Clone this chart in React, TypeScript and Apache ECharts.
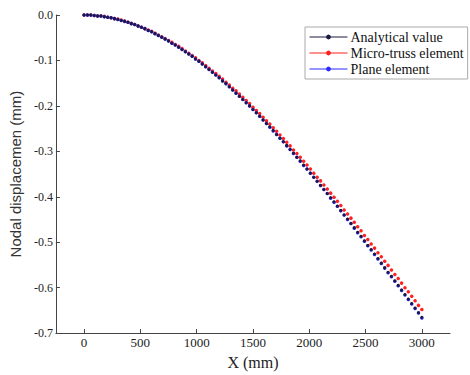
import React, { useEffect, useRef } from "react";
import * as echarts from "echarts";

const xValues = [
  0, 30, 60, 90, 120, 150, 180, 210, 240, 270, 300, 330, 360, 390, 420, 450, 480, 510, 540, 570,
  600, 630, 660, 690, 720, 750, 780, 810, 840, 870, 900, 930, 960, 990, 1020, 1050, 1080, 1110, 1140, 1170,
  1200, 1230, 1260, 1290, 1320, 1350, 1380, 1410, 1440, 1470, 1500, 1530, 1560, 1590, 1620, 1650, 1680, 1710, 1740, 1770,
  1800, 1830, 1860, 1890, 1920, 1950, 1980, 2010, 2040, 2070, 2100, 2130, 2160, 2190, 2220, 2250, 2280, 2310, 2340, 2370,
  2400, 2430, 2460, 2490, 2520, 2550, 2580, 2610, 2640, 2670, 2700, 2730, 2760, 2790, 2820, 2850, 2880, 2910, 2940, 2970,
  3000,
];

const analytical = [
  0, -0.000, -0.000, -0.001, -0.002, -0.002, -0.004, -0.005, -0.006, -0.008,
  -0.010, -0.012, -0.014, -0.016, -0.019, -0.021, -0.024, -0.027, -0.030, -0.034,
  -0.037, -0.041, -0.045, -0.049, -0.053, -0.057, -0.062, -0.066, -0.071, -0.076,
  -0.081, -0.086, -0.091, -0.097, -0.102, -0.108, -0.114, -0.120, -0.126, -0.132,
  -0.138, -0.145, -0.151, -0.158, -0.165, -0.172, -0.179, -0.186, -0.193, -0.200,
  -0.208, -0.215, -0.223, -0.231, -0.239, -0.246, -0.254, -0.263, -0.271, -0.279,
  -0.287, -0.296, -0.304, -0.313, -0.321, -0.330, -0.339, -0.348, -0.357, -0.366,
  -0.375, -0.384, -0.393, -0.402, -0.411, -0.421, -0.430, -0.440, -0.449, -0.459,
  -0.468, -0.478, -0.487, -0.497, -0.507, -0.516, -0.526, -0.536, -0.546, -0.556,
  -0.566, -0.575, -0.585, -0.595, -0.605, -0.615, -0.625, -0.635, -0.645, -0.655,
  -0.665,
];

const microTruss = [
  0, -0.000, -0.000, -0.001, -0.002, -0.002, -0.003, -0.005, -0.006, -0.008,
  -0.009, -0.011, -0.013, -0.016, -0.018, -0.021, -0.024, -0.027, -0.030, -0.033,
  -0.036, -0.040, -0.044, -0.048, -0.052, -0.056, -0.060, -0.065, -0.069, -0.074,
  -0.079, -0.084, -0.089, -0.094, -0.100, -0.105, -0.111, -0.117, -0.123, -0.129,
  -0.135, -0.141, -0.148, -0.154, -0.161, -0.167, -0.174, -0.181, -0.188, -0.195,
  -0.203, -0.210, -0.217, -0.225, -0.233, -0.240, -0.248, -0.256, -0.264, -0.272,
  -0.280, -0.288, -0.297, -0.305, -0.313, -0.322, -0.330, -0.339, -0.348, -0.357,
  -0.365, -0.374, -0.383, -0.392, -0.401, -0.410, -0.419, -0.429, -0.438, -0.447,
  -0.456, -0.466, -0.475, -0.485, -0.494, -0.504, -0.513, -0.523, -0.532, -0.542,
  -0.551, -0.561, -0.571, -0.580, -0.590, -0.600, -0.609, -0.619, -0.629, -0.639,
  -0.648,
];

const planeElement = [
  0, -0.000, -0.000, -0.001, -0.002, -0.002, -0.004, -0.005, -0.006, -0.008,
  -0.010, -0.012, -0.014, -0.016, -0.019, -0.021, -0.024, -0.027, -0.030, -0.034,
  -0.037, -0.041, -0.045, -0.049, -0.053, -0.057, -0.062, -0.066, -0.071, -0.076,
  -0.081, -0.086, -0.091, -0.097, -0.102, -0.108, -0.114, -0.120, -0.126, -0.132,
  -0.138, -0.145, -0.151, -0.158, -0.165, -0.172, -0.179, -0.186, -0.193, -0.200,
  -0.208, -0.215, -0.223, -0.231, -0.239, -0.247, -0.255, -0.263, -0.271, -0.279,
  -0.288, -0.296, -0.305, -0.313, -0.322, -0.331, -0.339, -0.348, -0.357, -0.366,
  -0.375, -0.384, -0.393, -0.403, -0.412, -0.421, -0.431, -0.440, -0.450, -0.459,
  -0.469, -0.479, -0.488, -0.498, -0.508, -0.517, -0.527, -0.537, -0.547, -0.557,
  -0.567, -0.576, -0.586, -0.596, -0.606, -0.616, -0.626, -0.636, -0.646, -0.656,
  -0.667,
];

const xTicks = [0, 500, 1000, 1500, 2000, 2500, 3000];
const seriesNames = ["Analytical value", "Micro-truss element", "Plane element"];
const seriesColors = ["#1a1a40", "#ff2020", "#2a2aff"];
const seriesZ = [4, 2, 3];
const seriesSizes = [3, 3.5, 3.5];

export default function App() {
  const ref = useRef<HTMLDivElement>(null);
  useEffect(() => {
    if (!ref.current) return;
    const chart = echarts.init(ref.current, null, { renderer: "svg" });
    const seriesData = [analytical, microTruss, planeElement];
    const serif = "Liberation Serif";
    chart.setOption({
      animation: false,
      backgroundColor: "#ffffff",
      grid: { left: 55, right: 20, top: 15, bottom: 41, containLabel: false },
      legend: {
        orient: "vertical",
        left: 305,
        top: 27,
        itemGap: 2,
        itemWidth: 38,
        itemHeight: 6,
        padding: [3, 4, 3, 4],
        borderColor: "#aaaaaa",
        borderWidth: 1,
        borderRadius: 0,
        textStyle: { fontFamily: serif, fontSize: 14, color: "#111", padding: [0, 0, 0, -2] },
        lineStyle: { width: 1, opacity: 1 },
        data: seriesNames,
      },
      xAxis: {
        type: "value",
        min: -250,
        max: 3250,
        name: "X (mm)",
        nameLocation: "middle",
        nameGap: 20,
        nameTextStyle: { fontFamily: serif, fontSize: 16, color: "#222" },
        axisLine: { show: true, onZero: false, lineStyle: { color: "#444", width: 1 } },
        axisTick: { show: true, customValues: xTicks, length: 4, inside: true, lineStyle: { color: "#444" } },
        axisLabel: {
          customValues: xTicks,
          fontFamily: serif,
          fontSize: 13,
          color: "#222",
          margin: 3,
          formatter: (v: number) => String(v),
        },
        splitLine: { show: false },
      },
      yAxis: {
        type: "value",
        min: -0.7,
        max: 0,
        interval: 0.1,
        name: "Nodal displacemen (mm)",
        nameLocation: "middle",
        nameRotate: 90,
        nameGap: 31,
        nameTextStyle: { fontFamily: "Liberation Sans", fontSize: 15, color: "#333" },
        axisLine: { show: true, onZero: false, lineStyle: { color: "#444", width: 1 } },
        axisTick: { show: true, length: 4, inside: true, lineStyle: { color: "#444" } },
        axisLabel: {
          fontFamily: serif,
          fontSize: 12,
          color: "#222",
          margin: 3,
          formatter: (v: number) => v.toFixed(1),
        },
        splitLine: { show: false },
      },
      series: seriesData.map((d, i) => ({
        name: seriesNames[i],
        type: "line",
        data: xValues.map((x, j) => [x, d[j]]),
        symbol: "circle",
        symbolSize: seriesSizes[i],
        showSymbol: true,
        itemStyle: { color: seriesColors[i] },
        lineStyle: { color: seriesColors[i], width: 0.6, opacity: 0 },
        z: seriesZ[i],
      })),
    });
    return () => chart.dispose();
  }, []);
  return (
    <div
      ref={ref}
      style={{ position: "fixed", left: 0, top: 0, width: 470, height: 375 }}
    />
  );
}
